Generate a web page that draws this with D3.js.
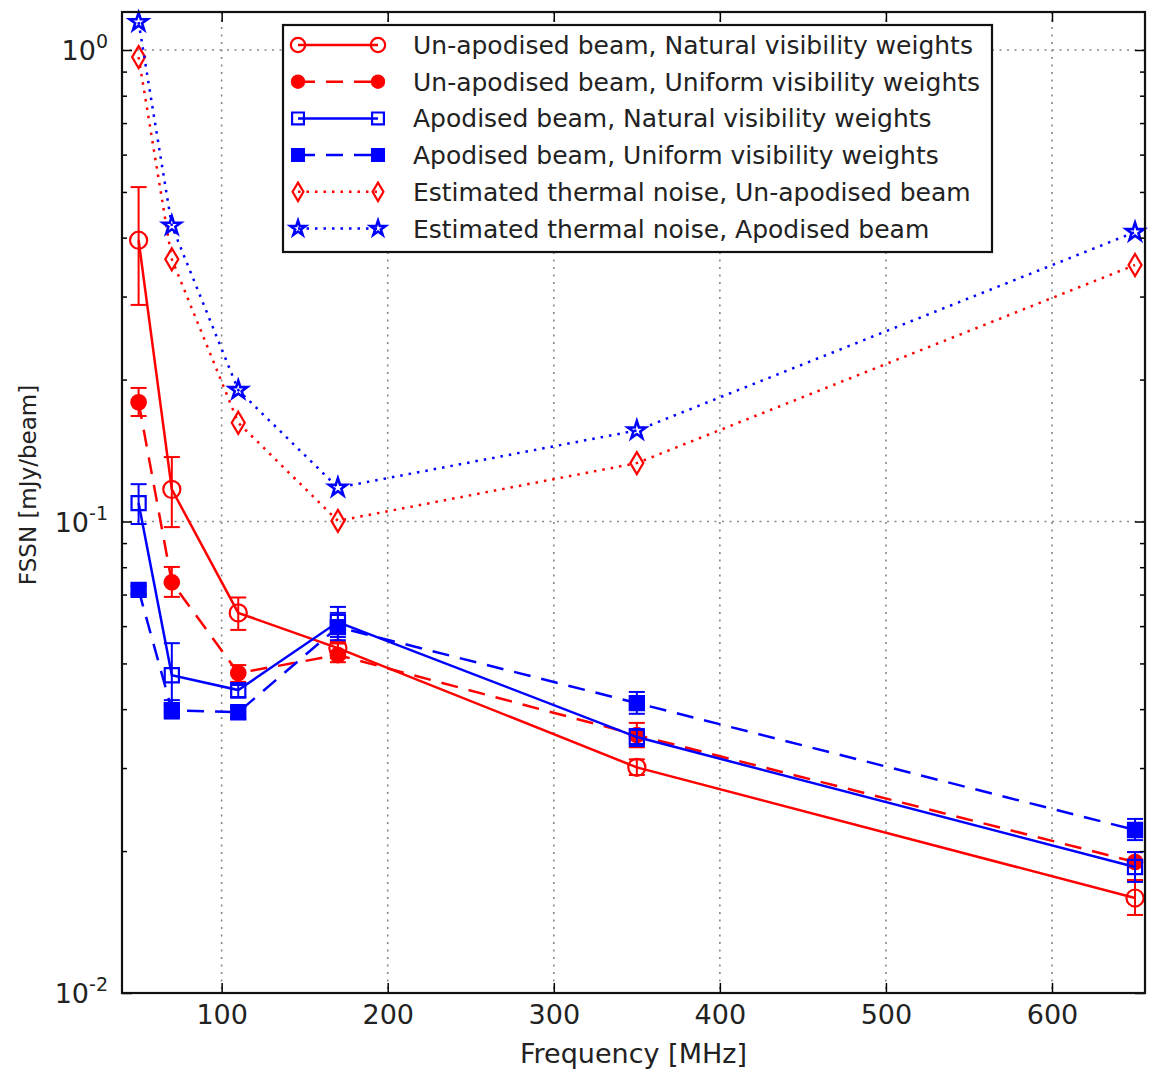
<!DOCTYPE html>
<html>
<head>
<meta charset="utf-8">
<script src="https://cdn.jsdelivr.net/npm/d3@7"></script>
<style>
  body { margin: 0; background: #fff; }
  svg { font-family: "DejaVu Sans", sans-serif; }
</style>
</head>
<body>
<svg id="chart" width="1150" height="1071"></svg>
<script>
// frequencies (MHz)
var freqs = [50, 70, 110, 170, 350, 650];

// FSSN values [mJy/beam] and error bar ends
var unapodNatural   = [0.395, 0.117, 0.064, 0.0539, 0.0301, 0.0159];
var unapodNaturalLo = [0.288, 0.0973, 0.0589, 0.0513, 0.029, 0.01464];
var unapodNaturalHi = [0.512, 0.137, 0.069, 0.0555, 0.0313, 0.01736];

var unapodUniform   = [0.179, 0.0743, 0.0477, 0.0521, 0.03525, 0.01896];
var unapodUniformLo = [0.1674, 0.0692, 0.0457, 0.0503, 0.0332, 0.01736];
var unapodUniformHi = [0.192, 0.0801, 0.0496, 0.0551, 0.0374, 0.0199];

var apodNatural   = [0.1094, 0.0472, 0.0439, 0.0612, 0.0349, 0.0185];
var apodNaturalLo = [0.0988, 0.0408, 0.0423, 0.0569, 0.0334, 0.0172];
var apodNaturalHi = [0.120, 0.0552, 0.0450, 0.0659, 0.0363, 0.0199];

var apodUniform   = [0.0716, 0.0398, 0.0394, 0.0597, 0.0412, 0.02217];
var apodUniformLo = [0.0702, 0.0382, 0.0382, 0.0560, 0.0391, 0.0211];
var apodUniformHi = [0.0730, 0.0418, 0.0404, 0.0640, 0.0435, 0.0234];

var thermalUnapod = [0.966, 0.360, 0.162, 0.1003, 0.133, 0.350];
var thermalApod   = [1.146, 0.424, 0.190, 0.118, 0.156, 0.411];

var xTicks = [100, 200, 300, 400, 500, 600];
var yTicks = [1e-2, 1e-1, 1e0];
var yTickExp = ["-2", "-1", "0"];

var legendLabels = [
    "Un-apodised beam, Natural visibility weights",
    "Un-apodised beam, Uniform visibility weights",
    "Apodised beam, Natural visibility weights",
    "Apodised beam, Uniform visibility weights",
    "Estimated thermal noise, Un-apodised beam",
    "Estimated thermal noise, Apodised beam"
];

var RED = "#ff0000", BLUE = "#0000ff";

var series = [
    {vals: unapodNatural, lo: unapodNaturalLo, hi: unapodNaturalHi, color: RED, dash: null, marker: "circle", fill: false},
    {vals: unapodUniform, lo: unapodUniformLo, hi: unapodUniformHi, color: RED, dash: "17,11", marker: "circle", fill: true},
    {vals: apodNatural, lo: apodNaturalLo, hi: apodNaturalHi, color: BLUE, dash: null, marker: "square", fill: false},
    {vals: apodUniform, lo: apodUniformLo, hi: apodUniformHi, color: BLUE, dash: "17,11", marker: "square", fill: true},
    {vals: thermalUnapod, color: RED, dash: "2.5,6", marker: "diamond", fill: false},
    {vals: thermalApod, color: BLUE, dash: "2.5,6", marker: "star", fill: false}
];

var pLeft = 122, pRight = 1145, pTop = 12, pBottom = 993;

var svg = d3.select("#chart");

var x = d3.scaleLinear().domain([40, 656]).range([pLeft, pRight]);
var y = d3.scaleLog().domain([0.01, 1.204]).range([pBottom, pTop]);

// grid
var grid = svg.append("g").attr("class", "grid");
grid.selectAll("line.gx").data(xTicks).enter().append("line")
    .attr("x1", function (d) { return x(d); })
    .attr("x2", function (d) { return x(d); })
    .attr("y1", pTop).attr("y2", pBottom)
    .style("stroke", "#888").style("stroke-width", 1.6)
    .style("stroke-dasharray", "2,5.5");
grid.selectAll("line.gy").data(yTicks).enter().append("line")
    .attr("y1", function (d) { return y(d); })
    .attr("y2", function (d) { return y(d); })
    .attr("x1", pLeft).attr("x2", pRight)
    .style("stroke", "#888").style("stroke-width", 1.6)
    .style("stroke-dasharray", "2,5.5");

// minor y ticks (2..9 per decade)
var minor = [];
[0.01, 0.1, 1].forEach(function (dec) {
    for (var k = 2; k <= 9; k++) {
        var v = dec * k;
        if (v < 1.204) minor.push(v);
    }
});

function markerPath(type, small) {
    var f = small ? 0.7 : 1;
    if (type === "circle") return d3.symbol(d3.symbolCircle).size(230 * f)();
    if (type === "square") return d3.symbol(d3.symbolSquare).size(200 * f)();
    if (type === "star") return d3.symbol(d3.symbolStar).size(100 * f)();
    // thin diamond like matplotlib 'd'
    var h = 11 * Math.sqrt(f), w = 6.5 * Math.sqrt(f);
    return "M0," + (-h) + "L" + w + ",0L0," + h + "L" + (-w) + ",0Z";
}

function drawMarker(g, s, px, py, small) {
    var fillC = s.fill ? s.color : "none";
    var sz = s.marker === "circle" && s.fill ? 0.85 : 1;
    g.append("path")
        .attr("d", markerPath(s.marker, small))
        .attr("transform", "translate(" + px + "," + py + ") scale(" + sz + ")")
        .style("fill", fillC)
        .style("stroke", s.color)
        .style("stroke-width", (s.marker === "star" ? 2.6 : 2.2) / sz);
}

var plot = svg.append("g");

var line = d3.line()
    .x(function (d) { return x(d[0]); })
    .y(function (d) { return y(d[1]); });

series.forEach(function (s) {
    var pts = freqs.map(function (f, i) { return [f, s.vals[i]]; });
    var g = plot.append("g");
    g.append("path")
        .datum(pts)
        .attr("d", line)
        .style("fill", "none")
        .style("stroke", s.color)
        .style("stroke-width", 2.5)
        .style("stroke-dasharray", s.dash);
    if (s.lo) {
        freqs.forEach(function (f, i) {
            var px = x(f), y1 = y(s.lo[i]), y2 = y(s.hi[i]);
            g.append("line").attr("x1", px).attr("x2", px).attr("y1", y1).attr("y2", y2)
                .style("stroke", s.color).style("stroke-width", 2);
            [y1, y2].forEach(function (yy) {
                g.append("line").attr("x1", px - 8).attr("x2", px + 8).attr("y1", yy).attr("y2", yy)
                    .style("stroke", s.color).style("stroke-width", 2);
            });
        });
    }
    freqs.forEach(function (f, i) {
        drawMarker(g, s, x(f), y(s.vals[i]));
    });
});

// axes with inward ticks on all four sides
var fs = 27;
var xAxis = svg.append("g").attr("transform", "translate(0," + pBottom + ")")
    .call(d3.axisBottom(x).tickValues(xTicks).tickSize(-10).tickPadding(12));
var xTop = svg.append("g").attr("transform", "translate(0," + pTop + ")")
    .call(d3.axisTop(x).tickValues(xTicks).tickSize(-10).tickFormat(""));
var yAxis = svg.append("g").attr("transform", "translate(" + pLeft + ",0)")
    .call(d3.axisLeft(y).tickValues(yTicks).tickSize(-10).tickFormat(""));
var yRight = svg.append("g").attr("transform", "translate(" + pRight + ",0)")
    .call(d3.axisRight(y).tickValues(yTicks).tickSize(-10).tickFormat(""));
var yMinorL = svg.append("g").attr("transform", "translate(" + pLeft + ",0)")
    .call(d3.axisLeft(y).tickValues(minor).tickSize(-5).tickFormat(""));
var yMinorR = svg.append("g").attr("transform", "translate(" + pRight + ",0)")
    .call(d3.axisRight(y).tickValues(minor).tickSize(-5).tickFormat(""));

[xAxis, xTop, yAxis, yRight, yMinorL, yMinorR].forEach(function (a) {
    a.select(".domain").remove();
    a.selectAll(".tick line").style("stroke", "#000").style("stroke-width", 1.5);
});
xAxis.selectAll(".tick text")
    .style("font-size", fs + "px").style("fill", "#222")
    .style("font-family", "DejaVu Sans");

// y tick labels as 10^n
yTicks.forEach(function (v, i) {
    var t = svg.append("text")
        .attr("x", pLeft - 14)
        .attr("y", y(v) + 10)
        .attr("text-anchor", "end")
        .style("font-size", fs + "px").style("fill", "#222");
    t.append("tspan").text("10");
    t.append("tspan").attr("dy", -12).style("font-size", "19px").text(yTickExp[i]);
});

// frame
svg.append("rect")
    .attr("x", pLeft).attr("y", pTop)
    .attr("width", pRight - pLeft).attr("height", pBottom - pTop)
    .style("fill", "none").style("stroke", "#111").style("stroke-width", 2.2);

// axis labels
svg.append("text")
    .attr("x", (pLeft + pRight) / 2).attr("y", 1063)
    .attr("text-anchor", "middle")
    .style("font-size", "27px").style("fill", "#222")
    .text("Frequency [MHz]");
svg.append("text")
    .attr("transform", "translate(36,485) rotate(-90)")
    .attr("text-anchor", "middle")
    .style("font-size", "23px").style("fill", "#222")
    .text("FSSN [mJy/beam]");

// legend
var leg = svg.append("g");
leg.append("rect")
    .attr("x", 283).attr("y", 25).attr("width", 709).attr("height", 227)
    .style("fill", "#fff").style("stroke", "#111").style("stroke-width", 2.2);
series.forEach(function (s, i) {
    var ly = 45 + i * 36.7;
    leg.append("line")
        .attr("x1", 298).attr("x2", 378).attr("y1", ly).attr("y2", ly)
        .style("stroke", s.color).style("stroke-width", 2.5)
        .style("stroke-dasharray", s.dash);
    drawMarker(leg, s, 298, ly, true);
    drawMarker(leg, s, 378, ly, true);
    leg.append("text")
        .attr("x", 413).attr("y", ly + 9)
        .style("font-size", "25px").style("fill", "#222")
        .text(legendLabels[i]);
});
</script>
</body>
</html>
